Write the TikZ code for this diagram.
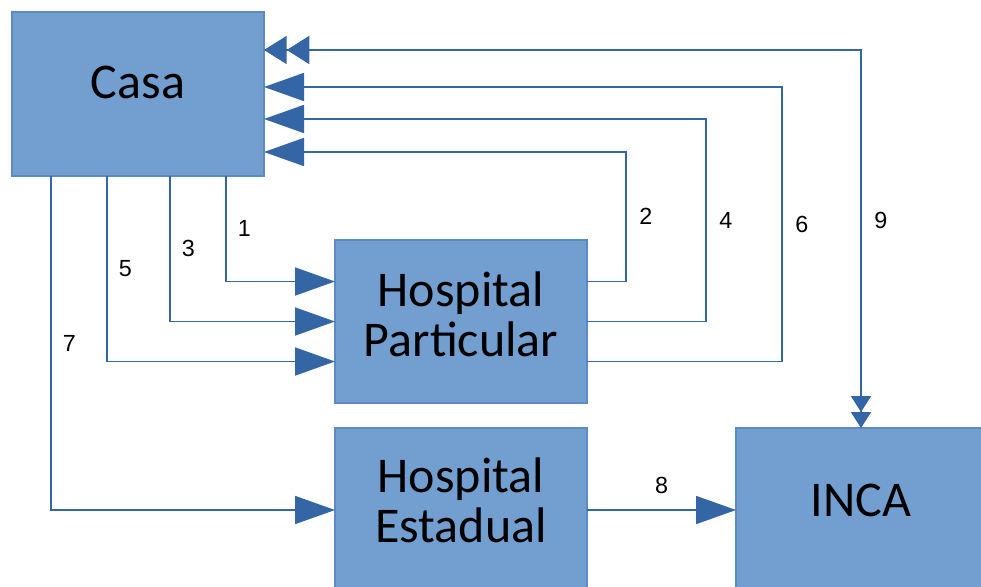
\documentclass[tikz,border=0pt]{standalone}
\usepackage{fontspec}
\setmainfont{Carlito}
\newfontfamily\numfont{Liberation Sans}
\usepackage{xcolor}
\usepackage{tikz}
\usetikzlibrary{positioning}
\usetikzlibrary{arrows.meta}
\definecolor{boxfill}{HTML}{729FCF}
\definecolor{boxline}{HTML}{5B8AC5}
\definecolor{linkblue}{HTML}{3465A4}
\tikzset{edge/.style = {-{Triangle[length=30pt,width=21pt]}, draw=linkblue, line width=1.3pt}}
\tikzset{twoway edge/.style = {{Triangle[length=17pt,width=21pt]Triangle[length=17pt,width=21pt]}-{Triangle[length=12pt,width=15pt]Triangle[length=12pt,width=15pt]}, draw=linkblue, line width=1.3pt}}

\begin{document}
\begin{tikzpicture}[x=0.75pt,y=-0.75pt,main node/.style={rectangle,draw=boxline,fill=boxfill,line width=1pt,outer sep=0pt,minimum width=189pt,minimum height=123pt,align=center,font=\fontsize{37.5}{37.5}\selectfont}]
            \clip (0,0) rectangle (981,586);
            \node[main node,text depth=18pt] (1) at (138,94) {Casa};
            \node[main node,minimum height=122.25pt,text depth=10.5pt] (2) [below right=48pt and 53.25pt of 1] {Hospital\\Particular};
            \node[main node,text depth=15pt] (3) [below=18.75pt of 2] {Hospital\\Estadual};
            \node[main node,minimum width=187.5pt,text depth=15pt] (4) [right=111.75pt of 3] {INCA};
            \begin{scope}[every node/.style={font=\numfont\fontsize{17.5}{20}\selectfont}]
                \draw[edge] ([xshift=66pt]1.south) |- node[pos=.25,right=5pt] (n1) {1} ([yshift=30pt]2.west);
                \draw[edge] ([xshift=24pt]1.south) |- node[pos=.25,right=5pt] (n3) {3} (2.west);
                \draw[edge] ([xshift=-23.25pt]1.south) |- node[pos=.25,right=5pt] (n5) {5} ([yshift=-30pt]2.west);
                \draw[edge] ([xshift=-65.25pt]1.south) |- node[pos=.25,right=5pt] (n7) {7} (3.west);
                \draw[edge] (3) -- node[above=8pt] (n8) {8} (4);
                \draw[edge] ([yshift=30pt]2.east) -- ++(39,0) |- node[pos=.25,right=6pt] (n2) {2} ([yshift=-43.5pt]1.east);
                \draw[edge] (2.east) -- ++(119,0) |- node[pos=.25,right=6pt] (n4) {4} ([yshift=-18.75pt]1.east);
                \draw[edge] ([yshift=-30pt]2.east) -- ++(195,0) |- node[pos=.25,right=6pt] (n6) {6} ([yshift=5.25pt]1.east);
                \draw[twoway edge] ([yshift=33pt]1.east) -| node[pos=.725,right=6pt] (n9) {9} (4);
            \end{scope}
        \end{tikzpicture}
\end{document}
